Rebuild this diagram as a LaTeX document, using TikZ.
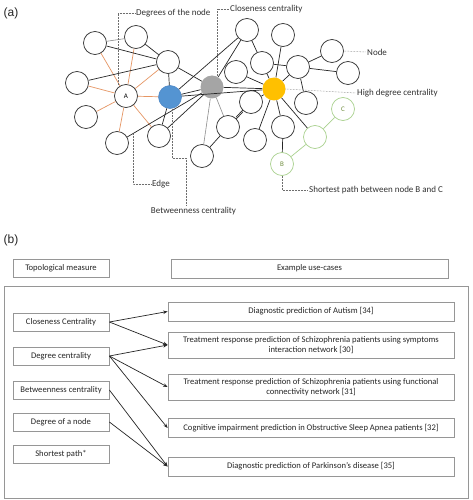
\documentclass[tikz,border=0pt]{standalone}
\usepackage{fontspec}
\setmainfont{Carlito}
\newfontfamily\panelfont{Liberation Sans}
\usetikzlibrary{arrows.meta}
\definecolor{edgeor}{RGB}{230,150,100}
\definecolor{nodeblue}{RGB}{84,148,210}
\definecolor{nodeblueb}{RGB}{70,130,195}
\definecolor{nodegray}{RGB}{165,165,165}
\definecolor{nodeyel}{RGB}{255,192,0}
\definecolor{pathgreen}{RGB}{169,209,142}
\definecolor{textgreen}{RGB}{110,140,60}
\definecolor{lbltext}{RGB}{50,50,50}
\definecolor{boxgray}{RGB}{150,150,150}
\definecolor{dotgray}{RGB}{110,110,110}
\definecolor{lightedge}{RGB}{140,140,140}
\begin{document}
\begin{tikzpicture}[x=1pt,y=-1pt,font=\fontsize{9}{10.5}\selectfont,
  nd/.style={circle,draw=black!80,line width=0.75pt,minimum size=23pt,inner sep=0pt,fill=white},
  gnd/.style={circle,draw=pathgreen,line width=0.7pt,minimum size=23pt,inner sep=0pt,fill=white,text=textgreen,font=\fontsize{7}{8}\selectfont},
  ed/.style={black!85,line width=0.7pt},
  led/.style={lightedge,line width=0.6pt},
  oed/.style={edgeor,line width=0.7pt},
  ged/.style={pathgreen,line width=0.7pt},
  dotl/.style={dotgray,densely dotted,line width=0.5pt},
  lbl/.style={text=lbltext,inner sep=1pt,anchor=west},
  box/.style={draw=boxgray,line width=0.8pt,inner sep=1pt,align=center,text=black!85,font=\fontsize{8.6}{10.5}\selectfont},
  lbox/.style={box,minimum width=96pt,minimum height=18pt},
  rbox/.style={box,minimum width=286pt,minimum height=19pt},
  arr/.style={-{Stealth[length=4.5pt,width=3.5pt]},line width=0.7pt,black!85}
]
\useasboundingbox (0,0) rectangle (472,500);
\fill[white] (0,0) rectangle (472,500);

% panel labels
\node[font=\panelfont\fontsize{12}{14}\selectfont,text=black!85] (pa) at (11,13) {(a)};
\node[font=\panelfont\fontsize{12}{14}\selectfont,text=black!85] (pb) at (11,240) {(b)};

% ---- network nodes ----
\node[nd] (n1) at (95,43) {};
\node[nd] (n2) at (136,37) {};
\node[nd] (n3) at (168,62) {};
\node[nd] (n4) at (77,83) {};
\node[nd,font=\fontsize{7}{8}\selectfont] (A) at (126,96) {A};
\node[circle,fill=nodeblue,draw=nodeblueb,line width=0.5pt,minimum size=23pt,inner sep=0pt] (bl) at (170,97) {};
\node[nd] (n5) at (86,117) {};
\node[nd] (n6) at (117,143) {};
\node[nd] (n7) at (159,136) {};
\node[circle,fill=nodegray,minimum size=23pt,inner sep=0pt] (gr) at (212,87) {};
\node[nd] (t1) at (247,30) {};
\node[nd] (t2) at (283,35) {};
\node[nd] (r1) at (332,51) {};
\node[nd] (r2) at (348,73) {};
\node[nd] (m1) at (262,63) {};
\node[nd] (m2) at (298,67) {};
\node[nd] (m3) at (236,72) {};
\node[circle,fill=nodeyel,minimum size=23pt,inner sep=0pt] (Y) at (274,89) {};
\node[nd] (m4) at (251,102) {};
\node[nd] (m5) at (306,103) {};
\node[nd] (m6) at (228,127) {};
\node[nd] (m7) at (283,127) {};
\node[nd] (m8) at (255,140) {};
\node[nd] (m9) at (202,156) {};
\node[gnd] (C) at (343,109) {C};
\node[gnd] (G) at (315,137) {};
\node[gnd] (B) at (282,164) {B};

% ---- edges ----
\foreach \t in {n1,n2,n3,n4,bl,n5,n6,n7} \draw[oed] (A) -- (\t);
\draw[led] (n1) -- (n2);
\draw[ed] (n1) -- (n3);
\draw[ed] (n2) -- (n3);
\draw[ed] (n4) -- (n3);
\draw[ed] (n3) -- (bl);
\draw[ed] (n3) -- (gr);
\draw[ed] (bl) -- (gr);
\draw[ed] (bl) -- (t1);
\draw[ed] (gr) -- (t1);
\draw[ed] (bl) -- (n7);
\draw[ed] (n6) -- (gr);
\draw[ed] (n7) -- (gr);
\draw[ed] (bl) -- (Y);
\draw[ed] (gr) -- (Y);
\draw[led] (gr) -- (m6);
\draw[led] (gr) -- (m9);
\draw[ed] (t1) -- (m1);
\draw[ed] (t2) -- (Y);
\draw[ed] (m1) -- (Y);
\draw[ed] (m1) -- (m2);
\draw[ed] (m2) -- (r1);
\draw[ed] (m2) -- (r2);
\draw[ed] (m2) -- (Y);
\draw[ed] (m2) -- (m5);
\draw[ed] (m3) -- (Y);
\draw[ed] (m4) -- (Y);
\draw[ed] (Y) -- (m8);
\draw[ed] (Y) -- (m7);
\draw[ed] (Y) -- (G);
\draw[ed] (m7) -- (B);
\draw[ed,transform canvas={yshift=1pt}] (m4) -- (m6);
\draw[ed,transform canvas={yshift=-1pt}] (m4) -- (m6);
\draw[ed] (m6) -- (m9);
\draw[ged] (B) -- (G);
\draw[ged] (G) -- (C);

% ---- labels ----
\node[lbl] (l1) at (135,13) {Degrees of the node};
\node[lbl] (l2) at (229,9) {Closeness centrality};
\node[lbl] (l3) at (366,52) {Node};
\node[lbl] (l4) at (356,93) {High degree centrality};
\node[lbl] (l5) at (308,190) {Shortest path between node B and C};
\node[lbl] (l6) at (151,184) {Edge};
\node[text=lbltext,inner sep=1pt] (l7) at (193.5,211) {Betweenness centrality};

\coordinate (d1) at (118,85);
\coordinate (d2) at (217,76);
\coordinate (d6) at (133,134);
\coordinate (d7) at (186,205);
\draw[dotl] (d1) |- (l1.west);
\draw[dotl] (d2) |- (l2.west);
\draw[dotl] (r1.east) -- (l3.west);
\draw[dotl] (Y.east) -- (l4.west);
\draw[dotl] (B.south) |- (l5.west);
\draw[dotl] (d6) |- (l6.west);
\draw[dotl] (172,109) |- (186,158) -- (d7);

% ---- panel (b) ----
\node[lbox] (hL) at (61,268) {Topological measure};
\node[box,minimum width=277pt,minimum height=19pt] (hR) at (309.5,268.5) {Example use-cases};
\draw[boxgray,line width=0.8pt] (4,286) rectangle (468,498);

\node[lbox] (cc) at (61,322) {Closeness Centrality};
\node[lbox] (dc) at (61,356) {Degree centrality};
\node[lbox] (bc) at (61,390) {Betweenness centrality};
\node[lbox] (dn) at (61,422) {Degree of a node};
\node[lbox] (sp) at (61,454) {Shortest path*};

\node[rbox] (u1) at (311,311.5) {Diagnostic prediction of Autism [34]};
\node[rbox,minimum height=26pt] (u2) at (311,345) {Treatment response prediction of Schizophrenia patients using symptoms\\interaction network [30]};
\node[rbox,minimum height=26pt] (u3) at (311,387) {Treatment response prediction of Schizophrenia patients using functional\\connectivity network [31]};
\node[rbox] (u4) at (311,428) {Cognitive impairment prediction in Obstructive Sleep Apnea patients [32]};
\node[rbox] (u5) at (311,466.5) {Diagnostic prediction of Parkinson’s disease [35]};

\draw[arr] (cc.east) -- (u1.west);
\draw[arr] (cc.east) -- (u2.west);
\draw[arr] (dc.east) -- (u2.west);
\draw[arr] (dc.east) -- (u3.west);
\draw[arr] (dc.east) -- (u4.west);
\draw[arr] (bc.east) -- (u5.west);
\draw[arr] (dn.east) -- (u5.west);
\end{tikzpicture}
\end{document}
